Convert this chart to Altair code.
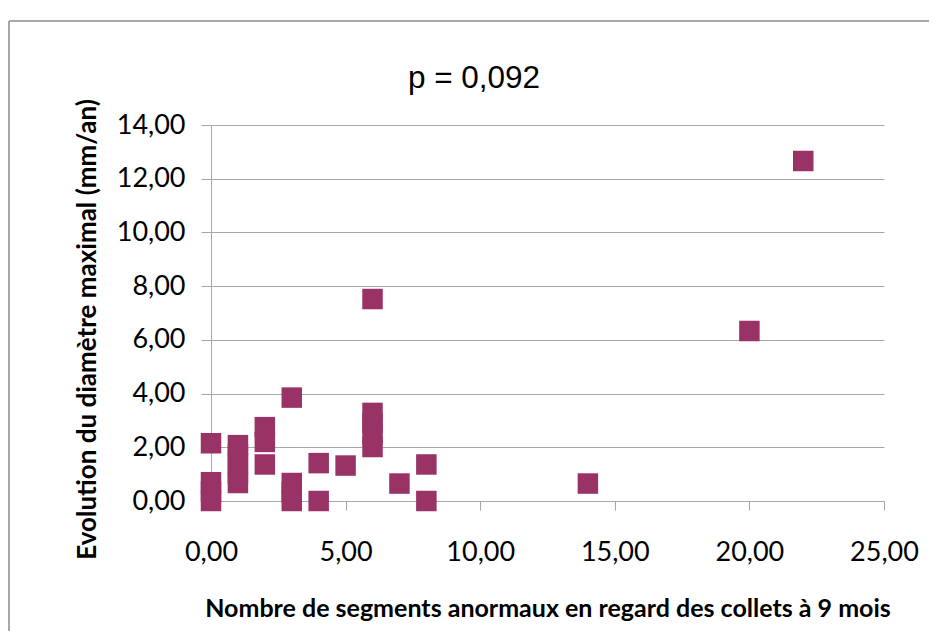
import altair as alt
import pandas as pd

# Data
x_vals = [0, 0, 0, 0,
          1, 1, 1, 1, 1,
          2, 2, 2,
          3, 3, 3, 3,
          4, 4,
          5,
          6, 6, 6, 6, 6,
          7,
          8, 8,
          14, 20, 22]
y_vals = [2.15, 0.0, 0.35, 0.7,
          0.67, 1.0, 1.4, 1.75, 2.08,
          2.75, 2.2, 1.36,
          3.85, 0.67, 0.33, 0.0,
          1.41, 0.0,
          1.32,
          7.52, 3.28, 2.9, 2.5, 2.01,
          0.65,
          1.36, 0.0,
          0.65, 6.33, 12.66]

x_ticks = [0, 5, 10, 15, 20, 25]
y_ticks = [0, 2, 4, 6, 8, 10, 12, 14]
title_text = ["p = 0,092"]
x_title = "Nombre de segments anormaux en regard des collets à 9 mois"
y_title = "Evolution du diamètre maximal (mm/an)"

df = pd.DataFrame({"x": x_vals, "y": y_vals})

AX = "#a6a6a6"
LABEL_FONT = "Lato"

points = alt.Chart(df).mark_square(size=420, color="#993366", opacity=1, clip=False).encode(
    x=alt.X("x:Q",
            scale=alt.Scale(domain=[0, 25], nice=False, zero=True),
            axis=alt.Axis(values=x_ticks, format=".2f",
                          labelExpr="replace(datum.label, '.', ',')",
                          title=x_title, grid=False, labelFlush=False,
                          domainColor=AX, tickColor=AX, tickSize=9,
                          labelFont=LABEL_FONT, labelFontSize=27, labelColor="#000",
                          labelPadding=29,
                          titleFont=LABEL_FONT, titleFontSize=25, titleFontWeight="bold",
                          titleColor="#000", titleBaseline="alphabetic", titleY=115)),
    y=alt.Y("y:Q",
            scale=alt.Scale(domain=[0, 14], nice=False),
            axis=alt.Axis(values=y_ticks, format=".2f",
                          labelExpr="replace(datum.label, '.', ',')",
                          title=y_title, grid=True, gridColor=AX, gridWidth=1,
                          labelFlush=False,
                          domainColor=AX, tickColor=AX, tickSize=10,
                          labelFont=LABEL_FONT, labelFontSize=27, labelColor="#000",
                          labelPadding=16,
                          titleFont=LABEL_FONT, titleFontSize=26, titleFontWeight="bold",
                          titleColor="#000", titleAngle=-90, titleAlign="center",
                          titleBaseline="middle", titleX=-124, titleY=204)),
)

title_df = pd.DataFrame({"t": title_text})
title = alt.Chart(title_df).mark_text(font="Liberation Sans", fontSize=31.5, color="#000",
                                      align="center", baseline="alphabetic").encode(
    text="t:N", x=alt.value(263), y=alt.value(-37))

frame_top = alt.Chart(title_df).mark_rule(color="#8c8c8c", strokeWidth=1.5).encode(
    x=alt.value(-202), x2=alt.value(760), y=alt.value(-104))
frame_left = alt.Chart(title_df).mark_rule(color="#8c8c8c", strokeWidth=1.5).encode(
    x=alt.value(-202), y=alt.value(-104), y2=alt.value(560))

chart = alt.layer(frame_top, frame_left, points, title).properties(
    width=673, height=376,
    padding={"left": 203, "top": 117, "right": 45, "bottom": 130},
    autosize=alt.AutoSizeParams(type="none"),
    background="white",
).configure_view(stroke=None)

chart.save("out.html", embed_options={"renderer": "svg", "actions": False})
